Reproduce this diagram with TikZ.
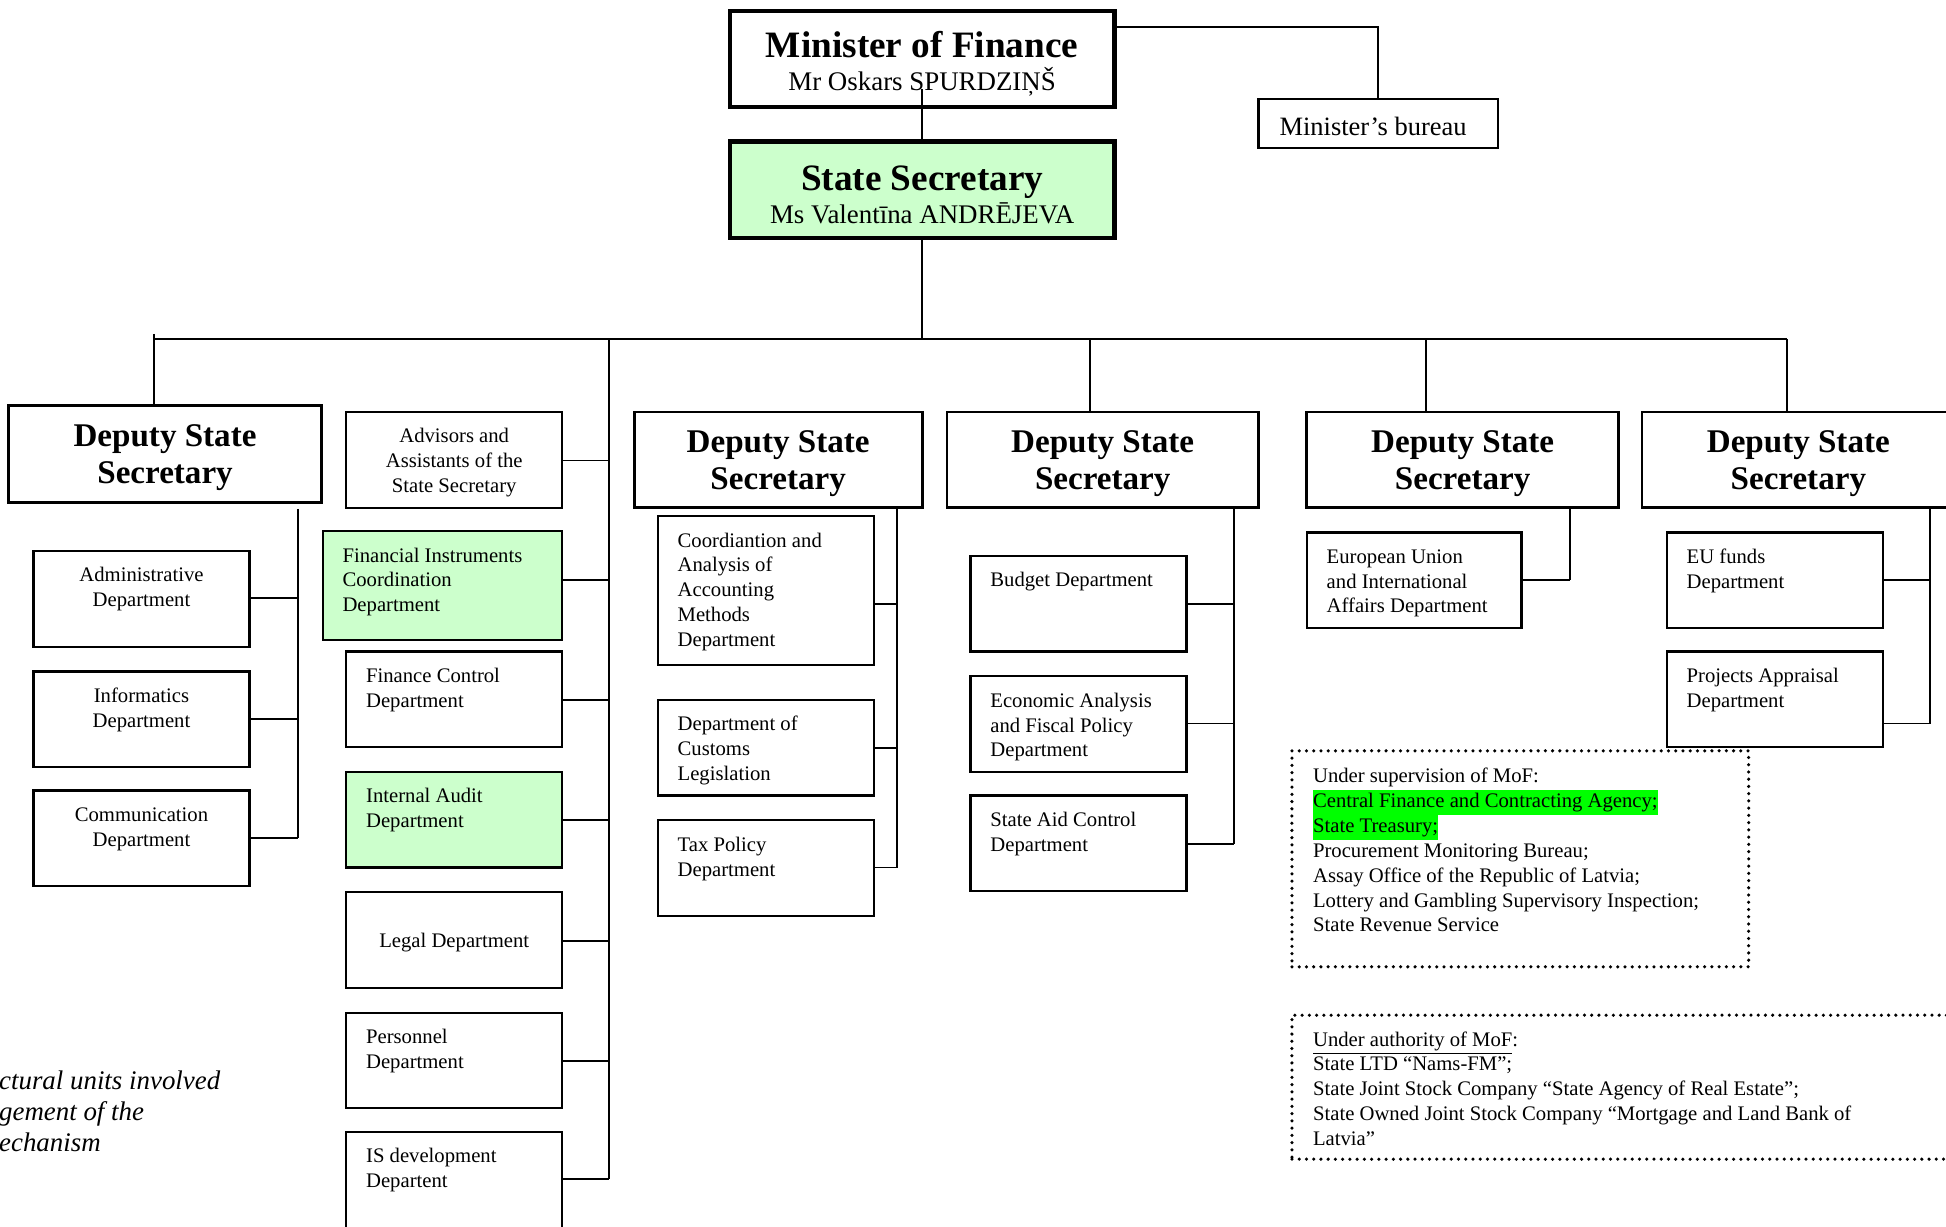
\documentclass[tikz,border=0pt]{standalone}
\usepackage{fontspec}
\setmainfont{Liberation Serif}
\definecolor{lgreen}{HTML}{CCFFCC}
\definecolor{hlgreen}{HTML}{00FF00}
% box: #1 style, #2 name, #3 x1, #4 y1, #5 x2, #6 y2, #7 inner pos, #8 content
\newcommand\orgbox[8]{%
  \pgfmathsetlengthmacro\obw{(#5-#3)*0.6pt}%
  \pgfmathsetlengthmacro\obh{(#6-#4)*0.6pt}%
  \node[#1, inner sep=0pt, outer sep=0pt, minimum width=\obw, minimum height=\obh]
    (#2) at ({(#3+#5)/2},{(#4+#6)/2})
    {\begin{minipage}[c][\obh][#7]{\obw}#8\end{minipage}};}
\newcommand\lefttxt[1]{\fontsize{10}{12}\selectfont\raggedright\leftskip=9.6pt\relax\vspace*{6.5pt}\strut#1\par}
\newcommand\ctrtxt[1]{\fontsize{10}{12}\selectfont\centering\vspace*{6.5pt}\strut#1\par}
\newcommand\dsstxt{\fontsize{16}{18}\selectfont\bfseries\centering\vspace*{3.6pt}Deputy State\\Secretary\par}
\newcommand\dottxt[2]{\fontsize{10}{12}\selectfont\raggedright\leftskip=10.2pt\relax\vspace*{#1}\strut#2\par}
\newcommand\hlbox[1]{{\setlength{\fboxsep}{0pt}\colorbox{hlgreen}{\strut #1}}}
\newcommand\hconn[3]{\coordinate (hc) at (#2,#3); \draw[conn] (#1.east |- hc) -- (hc);}
\begin{document}
\begin{tikzpicture}[x=0.6pt, y=-0.6pt,
  conn/.style={line width=0.9pt},
  dept/.style={draw, line width=1.05pt},
  deptg/.style={dept, fill=lgreen},
  dssbox/.style={draw, line width=1.4pt},
  topbox/.style={draw, line width=2pt},
  topboxg/.style={topbox, fill=lgreen},
  dotbox/.style={draw, line width=1.7pt, dash pattern=on 0pt off 3.5pt, line cap=round}]
\useasboundingbox (0,0) rectangle (1568,988);
\fill[white] (0,0) rectangle (1568,988);
\clip (0,0) rectangle (1568,988);

% top level
\orgbox{topbox}{mof}{588}{9}{898}{86}{t}{\centering\vspace*{8.3pt}{\fontsize{18}{20}\selectfont\bfseries\rule{0pt}{14pt}Minister of Finance\par}{\fontsize{13}{16}\selectfont Mr Oskars SPURDZIŅŠ\par}}
\orgbox{topboxg}{ss}{588}{114}{898}{192}{t}{\centering\vspace*{9.5pt}{\fontsize{18}{20}\selectfont\bfseries\rule{0pt}{14pt}State Secretary\par}{\fontsize{13}{16}\selectfont Ms Valentīna ANDRĒJEVA\par}}
\orgbox{dept}{bur}{1014}{80}{1207}{119}{c}{\fontsize{12.8}{15}\selectfont\raggedright\leftskip=10.2pt\relax\vspace*{2.4pt}Minister’s bureau\par}

% deputy state secretaries
\orgbox{dssbox}{dss1}{7}{327}{259}{405}{c}{\dsstxt}
\orgbox{dssbox}{dss2}{511}{332}{743}{409}{c}{\dsstxt}
\orgbox{dssbox}{dss3}{763}{332}{1014}{409}{c}{\dsstxt}
\orgbox{dssbox}{dss4}{1053}{332}{1304}{409}{c}{\dsstxt}
\orgbox{dssbox}{dss5}{1323}{332}{1575}{409}{c}{\dsstxt}

% DSS1 departments
\orgbox{dept}{adm}{27}{444}{201}{521}{t}{\ctrtxt{Administrative\\Department}}
\orgbox{dept}{inf}{27}{541}{201}{618}{t}{\ctrtxt{Informatics\\Department}}
\orgbox{dept}{com}{27}{637}{201}{714}{t}{\ctrtxt{Communication\\Department}}

% State secretary column
\orgbox{dept}{adv}{279}{332}{453}{409}{t}{\ctrtxt{Advisors and\\Assistants of the\\State Secretary}}
\orgbox{deptg}{fic}{260}{428}{453}{516}{t}{\lefttxt{Financial Instruments\\Coordination\\Department}}
\orgbox{dept}{fin}{279}{525}{453}{602}{t}{\lefttxt{Finance Control\\Department}}
\orgbox{deptg}{iau}{279}{622}{453}{699}{t}{\lefttxt{Internal Audit\\Department}}
\orgbox{dept}{leg}{279}{719}{453}{796}{c}{\fontsize{10}{12}\selectfont\centering\vspace*{2.4pt}Legal Department\par}
\orgbox{dept}{per}{279}{816}{453}{893}{t}{\lefttxt{Personnel\\Department}}
\orgbox{dept}{isd}{279}{912}{453}{992}{t}{\lefttxt{IS development\\Departent}}

% DSS2 departments
\orgbox{dept}{coo}{530}{416}{704}{536}{t}{\lefttxt{Coordiantion and\\Analysis of\\Accounting\\Methods\\Department}}
\orgbox{dept}{cus}{530}{564}{704}{641}{t}{\lefttxt{Department of\\Customs\\Legislation}}
\orgbox{dept}{tax}{530}{661}{704}{738}{t}{\lefttxt{Tax Policy\\Department}}

% DSS3 departments
\orgbox{dept}{bud}{782}{448}{956}{525}{t}{\lefttxt{Budget Department}}
\orgbox{dept}{eco}{782}{545}{956}{622}{t}{\lefttxt{Economic Analysis\\and Fiscal Policy\\Department}}
\orgbox{dept}{sad}{782}{641}{956}{718}{t}{\lefttxt{State Aid Control\\Department}}

% DSS4 / DSS5 departments
\orgbox{dept}{eui}{1053}{429}{1226}{506}{t}{\lefttxt{European Union\\and International\\Affairs Department}}
\orgbox{dept}{euf}{1343}{429}{1517}{506}{t}{\lefttxt{EU funds\\Department}}
\orgbox{dept}{pro}{1343}{525}{1517}{602}{t}{\lefttxt{Projects Appraisal\\Department}}

% dotted boxes
\orgbox{dotbox}{sup}{1041}{605}{1409}{779}{t}{\dottxt{7.1pt}{\smash{\underline{Under supervision of MoF}}:\\
\hlbox{Central Finance and Contracting Agency;}\\
\hlbox{State Treasury;}\\
Procurement Monitoring Bureau;\\
Assay Office of the Republic of Latvia;\\
Lottery and Gambling Supervisory Inspection;\\
State Revenue Service}}
\orgbox{dotbox}{aut}{1041}{818}{1620}{934}{t}{\dottxt{6.5pt}{\smash{\underline{Under authority of MoF}}:\\
State LTD “Nams-FM”;\\
State Joint Stock Company “State Agency of Real Estate”;\\
State Owned Joint Stock Company “Mortgage and Land Bank of\\
Latvia”}}

% note text (cropped at the left edge)
\node[anchor=base west, inner sep=0pt] (note) at (-1,878)
  {\parbox[t]{160pt}{\fontsize{13}{15}\selectfont\itshape ctural units involved\\gement of the\\echanism}};

% ---- connectors ----
\coordinate (mfin) at (743,72);
\draw[conn] (mfin) -- (ss.north);
\coordinate (bj) at (1110,22);
\draw[conn] (mof.east |- bj) -- (bj) -- (bj |- bur.north);

\coordinate (barL) at (124,273);
\coordinate (barR) at (1440,273);
\draw[conn] (ss.south) -- (ss.south |- barL);
\draw[conn] (barL) -- (barR);
\coordinate (d1top) at (124,269);
\draw[conn] (d1top) -- (d1top |- dss1.north);
\coordinate (c3) at (878,273);
\draw[conn] (c3) -- (c3 |- dss3.north);
\coordinate (c4) at (1149,273);
\draw[conn] (c4) -- (c4 |- dss4.north);
\draw[conn] (barR) -- (barR |- dss5.north);

% trunk of state secretary units
\coordinate (trk) at (491,273);
\coordinate (trkb) at (491,950);
\draw[conn] (trk) -- (trkb);
\hconn{adv}{491}{371}
\hconn{fic}{491}{467}
\hconn{fin}{491}{564}
\hconn{iau}{491}{661}
\hconn{leg}{491}{758}
\hconn{per}{491}{855}
\hconn{isd}{491}{950}

% DSS1
\coordinate (v1t) at (240,410);
\coordinate (v1b) at (240,675);
\draw[conn] (v1t) -- (v1b);
\hconn{adm}{240}{482}
\hconn{inf}{240}{579}
\hconn{com}{240}{675}

% DSS2
\coordinate (v2b) at (723,699);
\draw[conn] (dss2.south -| v2b) -- (v2b);
\hconn{coo}{723}{487}
\hconn{cus}{723}{603}
\hconn{tax}{723}{699}

% DSS3
\coordinate (v3b) at (994,680);
\draw[conn] (dss3.south -| v3b) -- (v3b);
\hconn{bud}{994}{487}
\hconn{eco}{994}{583}
\hconn{sad}{994}{680}

% DSS4
\coordinate (v4b) at (1265,467);
\draw[conn] (dss4.south -| v4b) -- (v4b);
\hconn{eui}{1265}{467}

% DSS5
\coordinate (v5b) at (1555,583);
\draw[conn] (dss5.south -| v5b) -- (v5b);
\hconn{euf}{1555}{467}
\hconn{pro}{1555}{583}
\end{tikzpicture}
\end{document}
